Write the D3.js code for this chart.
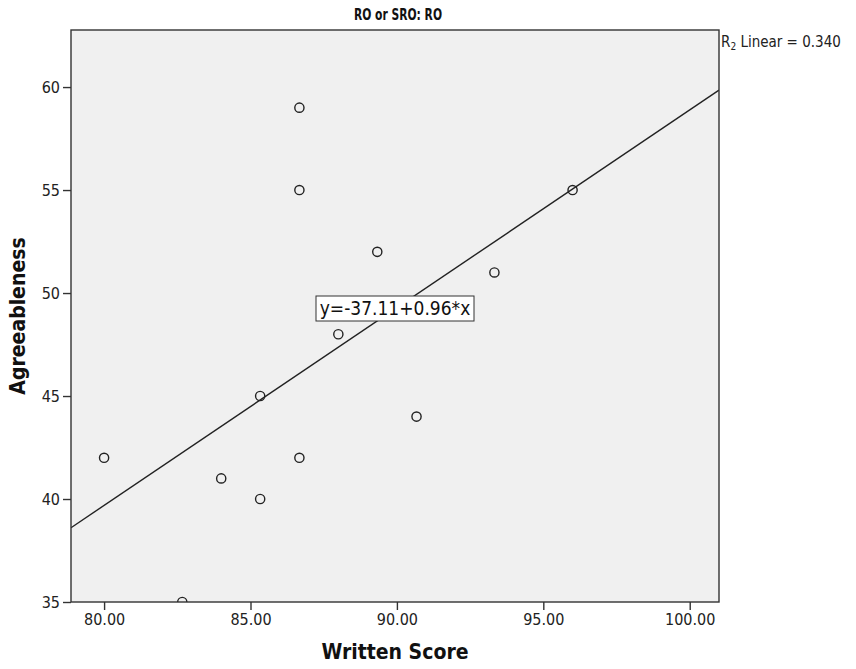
<!DOCTYPE html>
<html>
<head>
<meta charset="utf-8">
<script src="https://cdn.jsdelivr.net/npm/d3@7/dist/d3.min.js"></script>
<style>
  html, body { margin: 0; padding: 0; background: #ffffff; }
  svg { display: block; }
  text { font-family: "DejaVu Sans Condensed", "Open Sans", sans-serif; }
</style>
</head>
<body>
<svg id="chart" width="856" height="669"></svg>
<script>
// Written score vs agreeableness for the RO group
const writtenScore = [80.00, 82.67, 84.00, 85.33, 85.33, 86.67, 86.67, 86.67, 88.00, 89.33, 90.67, 93.33, 96.00];
const agreeableness = [42, 35, 41, 45, 40, 55, 59, 42, 48, 52, 44, 51, 55];
const xTicks = [80, 85, 90, 95, 100];
const yTicks = [35, 40, 45, 50, 55, 60];
const fitIntercept = -37.11;
const fitSlope = 0.96;
const rSquared = 0.340;

const svg = d3.select("#chart");
const plotLeft = 71, plotRight = 719, plotTop = 30, plotBottom = 602;

const x = d3.scaleLinear().domain([78.87, 101.0]).range([plotLeft, plotRight]);
const y = d3.scaleLinear().domain([35, 62.77]).range([plotBottom, plotTop]);

// plot background
svg.append("rect")
  .attr("x", plotLeft).attr("y", plotTop)
  .attr("width", plotRight - plotLeft).attr("height", plotBottom - plotTop)
  .attr("fill", "#f0f0f0");

// clip to the plot area
svg.append("clipPath").attr("id", "plotClip")
  .append("rect").attr("x", plotLeft).attr("y", plotTop)
  .attr("width", plotRight - plotLeft).attr("height", plotBottom - plotTop);

// regression line
const [x0, x1] = x.domain();
svg.append("line")
  .attr("clip-path", "url(#plotClip)")
  .attr("x1", x(x0)).attr("y1", y(fitIntercept + fitSlope * x0))
  .attr("x2", x(x1)).attr("y2", y(fitIntercept + fitSlope * x1))
  .attr("stroke", "#222").attr("stroke-width", 1.4);

// points
svg.append("g").attr("clip-path", "url(#plotClip)")
  .selectAll("circle")
  .data(writtenScore.map((d, i) => [d, agreeableness[i]]))
  .join("circle")
  .attr("cx", d => x(d[0]))
  .attr("cy", d => y(d[1]))
  .attr("r", 4.6)
  .attr("fill", "none")
  .attr("stroke", "#222")
  .attr("stroke-width", 1.4);

// frame
svg.append("rect")
  .attr("x", plotLeft).attr("y", plotTop)
  .attr("width", plotRight - plotLeft).attr("height", plotBottom - plotTop)
  .attr("fill", "none").attr("stroke", "#333").attr("stroke-width", 1.4);

// axes
const xAxis = svg.append("g")
  .attr("transform", `translate(0,${plotBottom})`)
  .call(d3.axisBottom(x).tickValues(xTicks).tickFormat(d3.format(".2f")).tickSize(8).tickPadding(4));
const yAxis = svg.append("g")
  .attr("transform", `translate(${plotLeft},0)`)
  .call(d3.axisLeft(y).tickValues(yTicks).tickFormat(d3.format("d")).tickSize(8).tickPadding(3));
[xAxis, yAxis].forEach(g => {
  g.select(".domain").remove();
  g.selectAll(".tick line").attr("stroke", "#333").attr("stroke-width", 1.4);
  g.selectAll(".tick text").attr("fill", "#222").style("font-size", "16px");
});

// titles
svg.append("text")
  .attr("x", 398).attr("y", 20)
  .attr("text-anchor", "middle")
  .attr("textLength", 88).attr("lengthAdjust", "spacingAndGlyphs")
  .style("font-size", "16px").style("font-weight", "bold")
  .attr("fill", "#111")
  .text("RO or SRO: RO");

svg.append("text")
  .attr("x", 395).attr("y", 659)
  .attr("text-anchor", "middle")
  .style("font-size", "21px").style("font-weight", "bold")
  .attr("fill", "#111")
  .text("Written Score");

svg.append("text")
  .attr("transform", "translate(25,316) rotate(-90)")
  .attr("text-anchor", "middle")
  .style("font-size", "21px").style("font-weight", "bold")
  .attr("fill", "#111")
  .text("Agreeableness");

// R squared note
const rText = svg.append("text")
  .attr("x", 721).attr("y", 47)
  .style("font-size", "15px")
  .attr("fill", "#222");
rText.append("tspan").text("R");
rText.append("tspan").attr("dy", 3).style("font-size", "10px").text("2");
rText.append("tspan").attr("dy", -3).text(" Linear = " + rSquared.toFixed(3));

// equation label
const eqText = "y=" + fitIntercept.toFixed(2) + "+" + fitSlope.toFixed(2) + "*x";
const eq = svg.append("g");
eq.append("rect")
  .attr("fill", "#ffffff").attr("stroke", "#333").attr("stroke-width", 1)
  .attr("x", 316).attr("y", 296).attr("width", 158).attr("height", 25);
eq.append("text")
  .attr("x", 395).attr("y", 315)
  .attr("text-anchor", "middle")
  .style("font-size", "19px")
  .attr("fill", "#111")
  .text(eqText);
</script>
</body>
</html>
